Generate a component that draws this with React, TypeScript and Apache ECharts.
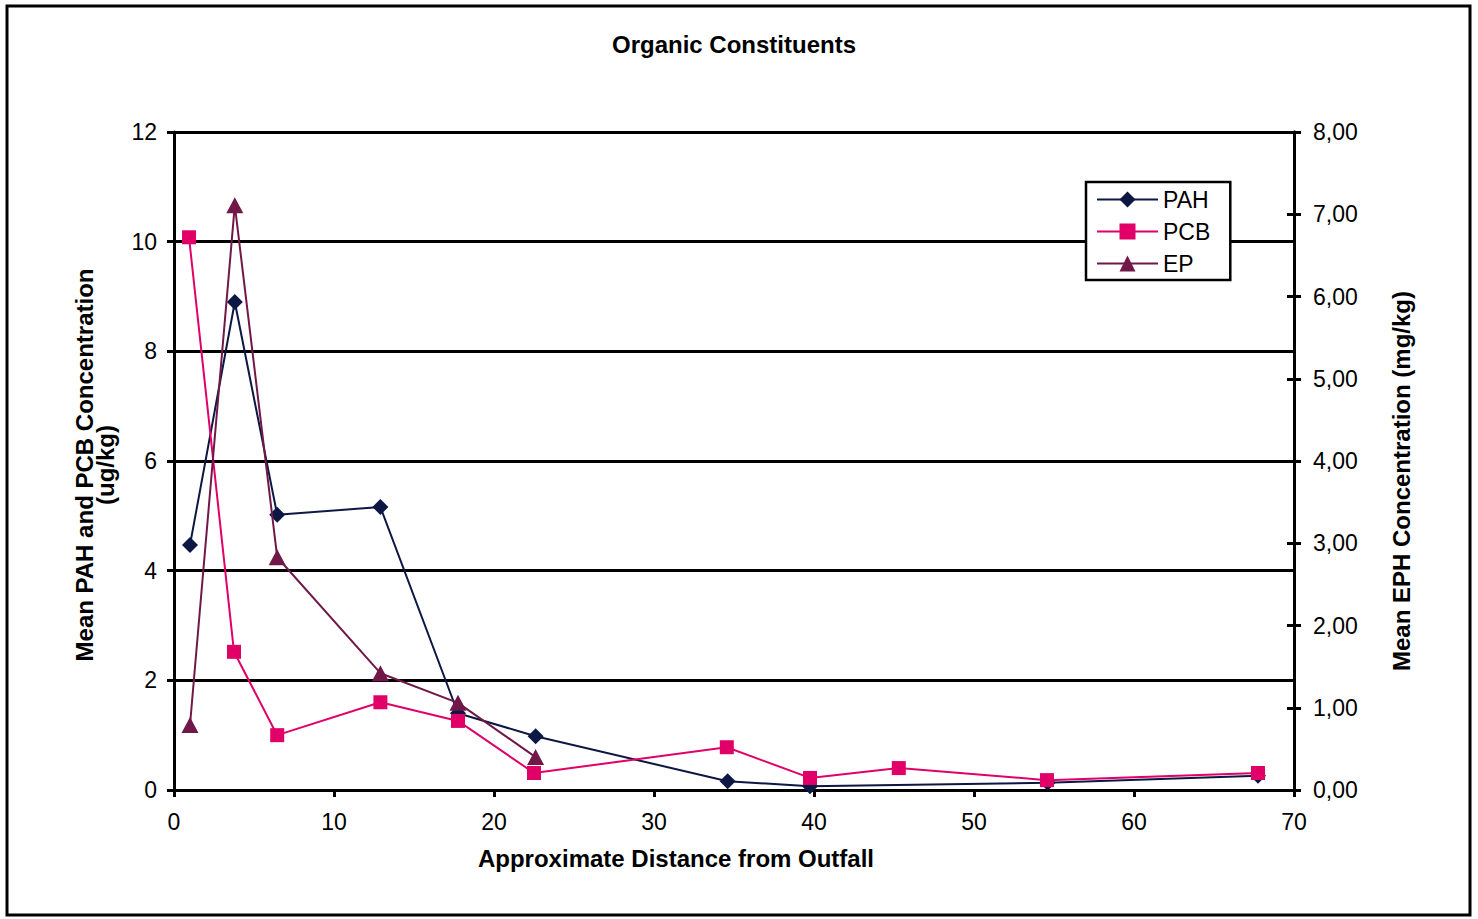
import React, { useEffect, useRef } from "react";
import * as echarts from "echarts";

const pahData: [number, number][] = [
  [1.0, 4.47], [3.8, 8.9], [6.45, 5.02], [12.9, 5.16], [17.75, 1.4],
  [22.6, 0.98], [34.6, 0.16], [39.75, 0.07], [54.6, 0.13], [67.75, 0.26],
];
const pcbData: [number, number][] = [
  [0.94, 10.08], [3.75, 2.52], [6.45, 1.0], [12.9, 1.6], [17.75, 1.26],
  [22.5, 0.31], [34.55, 0.78], [39.75, 0.22], [45.3, 0.4], [54.56, 0.18], [67.75, 0.31],
];
const epData: [number, number][] = [
  [1.0, 0.79], [3.8, 7.11], [6.45, 2.83], [12.9, 1.42], [17.75, 1.06], [22.6, 0.4],
];
const seriesNames = ["PAH", "PCB", "EP"];

const COLORS = { PAH: "#0c1743", PCB: "#e00068", EP: "#701847" };
const FONT = "Liberation Sans, Arial, sans-serif";
const TICK = 23;
const NAME = 24;

export default function App() {
  const ref = useRef<HTMLDivElement>(null);
  useEffect(() => {
    const chart = echarts.init(ref.current!, null, { renderer: "svg" });
    const axisLine = { show: true, lineStyle: { color: "#000", width: 3 } };
    const axisTick = { show: true, length: 7, lineStyle: { color: "#000", width: 3 } };
    chart.setOption({
      animation: false,
      backgroundColor: "#ffffff",
      title: {
        text: "Organic Constituents",
        left: 729,
        top: 27,
        textAlign: "center",
        textStyle: { fontFamily: FONT, fontSize: NAME, fontWeight: "bold", color: "#000" },
      },
      graphic: [
        {
          type: "rect",
          shape: { x: 7, y: 6, width: 1463, height: 909 },
          style: { fill: "none", stroke: "#000", lineWidth: 3 },
          silent: true,
        },
      ],
      legend: {
        orient: "vertical",
        left: 1086,
        top: 182,
        padding: [6, 20, 5, 10],
        itemGap: 9,
        itemWidth: 61,
        itemHeight: 20,
        borderColor: "#000",
        borderWidth: 2.5,
        backgroundColor: "#fff",
        textStyle: { fontFamily: FONT, fontSize: TICK, color: "#000", lineHeight: 20 },
        data: seriesNames,
      },
      grid: { left: 174, top: 132, right: 184, bottom: 129, containLabel: false },
      xAxis: {
        type: "value",
        min: 0,
        max: 70,
        interval: 10,
        name: "Approximate Distance from Outfall",
        nameLocation: "middle",
        nameGap: 56,
        nameTextStyle: {
          fontFamily: FONT,
          fontSize: NAME,
          fontWeight: "bold",
          color: "#000",
          padding: [0, 116, 0, 0],
        },
        axisLine,
        axisTick,
        axisLabel: { fontFamily: FONT, fontSize: TICK, color: "#000", margin: 20 },
        splitLine: { show: false },
      },
      yAxis: [
        {
          type: "value",
          min: 0,
          max: 12,
          interval: 2,
          position: "left",
          name: "Mean PAH and PCB Concentration\n(ug/kg)",
          nameLocation: "middle",
          nameRotate: 90,
          nameGap: 58,
          nameTextStyle: {
            fontFamily: FONT,
            fontSize: 24,
            fontWeight: "bold",
            color: "#000",
            lineHeight: 21,
            padding: [0, 8, 0, 0],
          },
          axisLine,
          axisTick,
          axisLabel: { fontFamily: FONT, fontSize: TICK, color: "#000", margin: 17 },
          splitLine: { show: true, lineStyle: { color: "#000", width: 3 } },
        },
        {
          type: "value",
          min: 0,
          max: 8,
          interval: 1,
          position: "right",
          name: "Mean EPH Concentration (mg/kg)",
          nameLocation: "middle",
          nameRotate: 90,
          nameGap: 95,
          nameTextStyle: {
            fontFamily: FONT,
            fontSize: NAME,
            fontWeight: "bold",
            color: "#000",
            padding: [0, 40, 0, 0],
          },
          axisLine,
          axisTick,
          axisLabel: {
            fontFamily: FONT,
            fontSize: TICK,
            color: "#000",
            margin: 19,
            formatter: (v: number) => v.toFixed(2).replace(".", ","),
          },
          splitLine: { show: false },
        },
        {
          type: "value",
          min: 0,
          max: 8,
          interval: 1,
          position: "right",
          axisLine,
          axisTick: { ...axisTick, inside: true },
          axisLabel: { show: false },
          splitLine: { show: false },
        },
      ],
      series: [
        {
          name: "PAH",
          type: "line",
          yAxisIndex: 0,
          data: pahData,
          symbol: "diamond",
          symbolSize: 16,
          color: COLORS.PAH,
          lineStyle: { color: COLORS.PAH, width: 2 },
          itemStyle: { color: COLORS.PAH },
          z: 3,
        },
        {
          name: "PCB",
          type: "line",
          yAxisIndex: 0,
          data: pcbData,
          symbol: "rect",
          symbolSize: 14,
          color: COLORS.PCB,
          lineStyle: { color: COLORS.PCB, width: 2 },
          itemStyle: { color: COLORS.PCB },
          z: 4,
        },
        {
          name: "EP",
          type: "line",
          yAxisIndex: 1,
          data: epData,
          symbol: "triangle",
          symbolSize: [17, 16],
          color: COLORS.EP,
          lineStyle: { color: COLORS.EP, width: 2 },
          itemStyle: { color: COLORS.EP },
          z: 5,
        },
      ],
    });
    return () => chart.dispose();
  }, []);
  return (
    <div
      ref={ref}
      style={{ position: "absolute", left: 0, top: 0, width: 1478, height: 919, background: "#fff" }}
    />
  );
}
